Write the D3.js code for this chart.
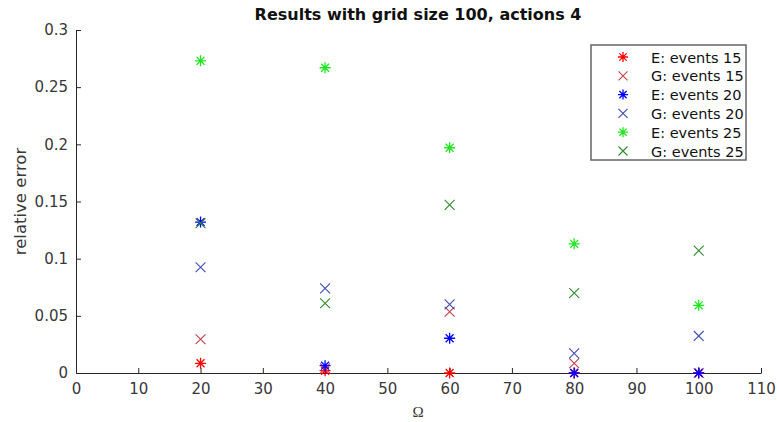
<!DOCTYPE html>
<html>
  <head>
    <meta charset="utf-8">
    <style>
      body { margin: 0; background: #fff; }
      text { font-family: "DejaVu Sans", sans-serif; }
    </style>
  </head>
  <body>
    <div id='graph'></div>
    <script src="https://cdn.jsdelivr.net/npm/d3@7"></script>
    <script>

    var omega = [20, 40, 60, 80, 100];

    var e15 = [0.0085, 0.002, 0.0, 0.0, 0.0];
    var g15 = [0.0295, 0.004, 0.0536, 0.0085, 0.0];
    var e20 = [0.132, 0.0064, 0.0304, 0.0, 0.0];
    var g20 = [0.0925, 0.074, 0.060, 0.0172, 0.0324];
    var e25 = [0.273, 0.267, 0.197, 0.113, 0.0592];
    var g25 = [0.131, 0.061, 0.147, 0.070, 0.107];

    var xTicks = [0, 10, 20, 30, 40, 50, 60, 70, 80, 90, 100, 110];
    var yTicks = [0, 0.05, 0.1, 0.15, 0.2, 0.25, 0.3];

    var series = [
      {name: 'E: events 15', values: e15, marker: 'star', color: '#ff0000'},
      {name: 'G: events 15', values: g15, marker: 'x', color: '#c0404c'},
      {name: 'E: events 20', values: e20, marker: 'star', color: '#0000ff'},
      {name: 'G: events 20', values: g20, marker: 'x', color: '#3c4cb4'},
      {name: 'E: events 25', values: e25, marker: 'star', color: '#1ee61e'},
      {name: 'G: events 25', values: g25, marker: 'x', color: '#2e8a2e'}
    ];

    var width = 777, height = 422;
    var m = {left: 76, right: 16, top: 30, bottom: 49};

    var svg = d3.select('#graph').append('svg')
        .attr('width', width)
        .attr('height', height);

    var x = d3.scaleLinear().domain([0, 110]).range([m.left, width - m.right]);
    var y = d3.scaleLinear().domain([0, 0.3]).range([height - m.bottom, m.top]);

    // axes, ticks inward like matlab
    var xAxis = svg.append('g')
        .attr('transform', 'translate(0,' + y(0) + ')')
        .call(d3.axisBottom(x).tickValues(xTicks).tickSizeInner(-5).tickSizeOuter(0).tickPadding(10));
    var yAxis = svg.append('g')
        .attr('transform', 'translate(' + x(0) + ',0)')
        .call(d3.axisLeft(y).tickValues(yTicks).tickFormat(d3.format('')).tickSizeInner(-5).tickSizeOuter(0).tickPadding(8));

    [xAxis, yAxis].forEach(function(a){
      a.select('.domain').attr('stroke', '#262626');
      a.selectAll('.tick line').attr('stroke', '#262626');
      a.selectAll('.tick text')
          .attr('fill', '#383838')
          .style('font-size', '15px')
          .style('font-family', '"DejaVu Sans", sans-serif');
    });

    function drawMarker(sel, type, color, s){
      if (type == 'star') {
        sel.append('path')
            .attr('d', 'M' + (-s) + ',0H' + s + 'M0,' + (-s) + 'V' + s +
                       'M' + (-s*0.72) + ',' + (-s*0.72) + 'L' + (s*0.72) + ',' + (s*0.72) +
                       'M' + (-s*0.72) + ',' + (s*0.72) + 'L' + (s*0.72) + ',' + (-s*0.72))
            .attr('stroke', color).attr('stroke-width', 1.3).attr('fill', 'none');
      } else {
        var k = s * 0.9;
        sel.append('path')
            .attr('d', 'M' + (-k) + ',' + (-k) + 'L' + k + ',' + k + 'M' + (-k) + ',' + k + 'L' + k + ',' + (-k))
            .attr('stroke', color).attr('stroke-width', 1.1).attr('fill', 'none');
      }
    }

    series.forEach(function(s){
      svg.append('g').selectAll('g')
          .data(s.values)
          .enter().append('g')
          .attr('transform', function(d, i){ return 'translate(' + x(omega[i]) + ',' + y(d) + ')'; })
          .each(function(){ drawMarker(d3.select(this), s.marker, s.color, 5.5); });
    });

    // title and labels
    svg.append('text')
        .attr('x', 418).attr('y', 20)
        .attr('text-anchor', 'middle')
        .style('font-size', '16px').style('font-weight', 'bold')
        .attr('fill', '#111')
        .text('Results with grid size 100, actions 4');

    svg.append('text')
        .attr('x', 418).attr('y', 417)
        .attr('text-anchor', 'middle')
        .style('font-size', '15px')
        .style('font-family', '"Liberation Serif", serif')
        .attr('fill', '#383838')
        .text('Ω');

    svg.append('text')
        .attr('transform', 'translate(26,' + ((y(0) + y(0.3)) / 2) + ') rotate(-90)')
        .attr('text-anchor', 'middle')
        .style('font-size', '16.5px')
        .attr('fill', '#383838')
        .text('relative error');

    // legend
    var lg = svg.append('g').attr('transform', 'translate(591,45)');
    lg.append('rect')
        .attr('width', 155).attr('height', 115)
        .attr('fill', '#fff').attr('stroke', '#666').attr('stroke-width', 1.5);

    var items = lg.selectAll('.item')
        .data(series)
        .enter().append('g')
        .attr('class', 'item')
        .attr('transform', function(d, i){ return 'translate(0,' + (12 + i * 18.8) + ')'; });

    items.each(function(d){
      var g = d3.select(this).append('g').attr('transform', 'translate(32,0)');
      drawMarker(g, d.marker, d.color, 5);
    });

    items.append('text')
        .attr('x', 60).attr('y', 5.5)
        .style('font-size', '14.5px')
        .attr('fill', '#111')
        .text(function(d){ return d.name; });

    </script>
  </body>
</html>
